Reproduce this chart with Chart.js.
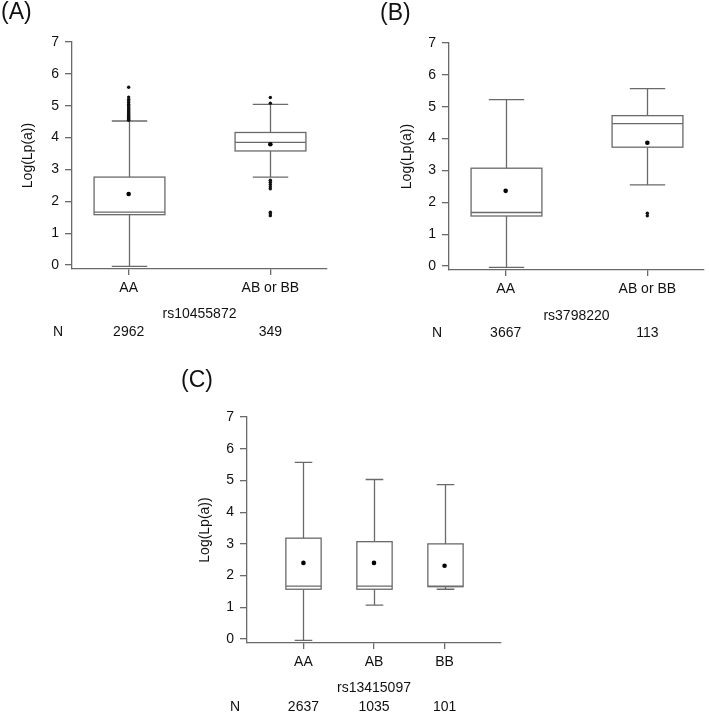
<!DOCTYPE html>
<html>
<head>
<meta charset="utf-8">
<script src="https://cdn.jsdelivr.net/npm/chart.js@4/dist/chart.umd.min.js"></script>
<style>
  html, body { margin: 0; padding: 0; background: #fff; }
  #wrap { position: relative; width: 709px; height: 715px; overflow: hidden; }
  canvas { position: absolute; }
</style>
</head>
<body>
<div id="wrap">
  <canvas id="chartA" style="left:0px;top:0px"></canvas>
  <canvas id="chartB" style="left:355px;top:0px"></canvas>
  <canvas id="chartC" style="left:180px;top:360px"></canvas>
</div>
<script>
// ---- data ----

// (A) rs10455872
var groupsA = ['AA', 'AB or BB'];
var countsA = [2962, 349];
var lowA = [-0.04, 2.76];
var q1A = [1.58, 3.58];
var medA = [1.66, 3.85];
var q3A = [2.76, 4.16];
var highA = [4.52, 5.04];
var meanA = [2.23, 3.79];
var outliersA_AA = [4.54, 4.57, 4.6, 4.63, 4.66, 4.69, 4.72, 4.75, 4.78, 4.81, 4.84, 4.87, 4.9, 4.93, 4.96, 5.0, 5.05, 5.1, 5.15, 5.2, 5.27, 5.58];
var outliersA_AB = [5.08, 5.26, 2.66, 2.6, 2.53, 2.46, 2.39, 1.66, 1.6, 1.55];

// (B) rs3798220
var groupsB = ['AA', 'AB or BB'];
var countsB = [3667, 113];
var lowB = [-0.04, 2.55];
var q1B = [1.57, 3.73];
var medB = [1.68, 4.47];
var q3B = [3.07, 4.72];
var highB = [5.22, 5.57];
var meanB = [2.36, 3.87];
var outliersB_AA = [];
var outliersB_AB = [1.66, 1.58];

// (C) rs13415097
var groupsC = ['AA', 'AB', 'BB'];
var countsC = [2637, 1035, 101];
var lowC = [-0.04, 1.07, 1.57];
var q1C = [1.57, 1.57, 1.65];
var medC = [1.67, 1.67, 1.67];
var q3C = [3.18, 3.07, 3.0];
var highC = [5.57, 5.03, 4.87];
var meanC = [2.4, 2.4, 2.31];

var yTicks = [0, 1, 2, 3, 4, 5, 6, 7];

var FONT = "'Liberation Sans', Arial, sans-serif";
var LINE = '#6a6a6a';
var TEXT = '#111';

// boxes + whiskers drawn through the chart scales, plus the extra labels
function boxPlugin(p) {
  return {
    id: 'boxes',
    beforeDatasetsDraw: function(chart) {
      var ctx = chart.ctx, x = chart.scales.x, y = chart.scales.y;
      ctx.save();
      ctx.strokeStyle = LINE;
      ctx.lineWidth = 1.3;
      for (var i = 0; i < p.q1.length; i++) {
        var cx = Math.round(x.getPixelForValue(i + 1)) + 0.5;
        var hw = x.getPixelForValue(i + 1 + p.boxWidth / 2) - x.getPixelForValue(i + 1);
        var yl = y.getPixelForValue(p.low[i]);
        var y1 = y.getPixelForValue(p.q1[i]);
        var ym = y.getPixelForValue(p.med[i]);
        var y3 = y.getPixelForValue(p.q3[i]);
        var yh = y.getPixelForValue(p.high[i]);
        ctx.beginPath();
        ctx.moveTo(cx, yl); ctx.lineTo(cx, y1);
        ctx.moveTo(cx, y3); ctx.lineTo(cx, yh);
        ctx.moveTo(cx - hw / 2, yl); ctx.lineTo(cx + hw / 2, yl);
        ctx.moveTo(cx - hw / 2, yh); ctx.lineTo(cx + hw / 2, yh);
        ctx.moveTo(cx - hw, ym); ctx.lineTo(cx + hw, ym);
        ctx.stroke();
        ctx.strokeRect(cx - hw, y3, hw * 2, y1 - y3);
      }
      ctx.restore();
    },
    afterDraw: function(chart) {
      var ctx = chart.ctx, x = chart.scales.x, area = chart.chartArea;
      ctx.save();
      ctx.fillStyle = TEXT;
      ctx.textBaseline = 'middle';
      // panel letter
      ctx.font = '23px ' + FONT;
      ctx.textAlign = 'left';
      ctx.fillText(p.letter, p.letterX, p.letterY);
      ctx.font = '14px ' + FONT;
      ctx.textAlign = 'center';
      // x title
      ctx.fillText(p.xTitle, (area.left + area.right) / 2, p.xTitleY);
      // N row
      ctx.fillText('N', p.nX, p.nY);
      for (var i = 0; i < p.counts.length; i++) {
        ctx.fillText(String(p.counts[i]), x.getPixelForValue(i + 1), p.nY);
      }
      // y title
      ctx.translate(p.yTitleX, (area.top + area.bottom) / 2);
      ctx.rotate(-Math.PI / 2);
      ctx.fillText('Log(Lp(a))', 0, 0);
      ctx.restore();
    }
  };
}

function makePanel(id, w, h, pad, xmin, xmax, groups, counts, low, q1, med, q3, high, mean, outliers, labels) {
  var canvas = document.getElementById(id);
  canvas.width = w; canvas.height = h;
  canvas.style.width = w + 'px'; canvas.style.height = h + 'px';

  var meanPts = mean.map(function(v, i) { return { x: i + 1, y: v }; });
  var outPts = [];
  outliers.forEach(function(list, i) {
    list.forEach(function(v) { outPts.push({ x: i + 1, y: v }); });
  });

  var panel = Object.assign({
    boxWidth: 0.5, counts: counts, low: low, q1: q1, med: med, q3: q3, high: high
  }, labels);

  var config = {
    type: 'scatter',
    data: {
      datasets: [
        { data: meanPts, pointRadius: 2.3, pointBackgroundColor: '#000', pointBorderWidth: 0 },
        { data: outPts, pointRadius: 1.7, pointBackgroundColor: '#111', pointBorderWidth: 0 }
      ]
    },
    options: {
      responsive: false,
      animation: false,
      devicePixelRatio: 1,
      layout: { padding: pad },
      plugins: { legend: { display: false }, tooltip: { enabled: false } },
      scales: {
        x: {
          type: 'linear', min: xmin, max: xmax,
          afterBuildTicks: function(s) { s.ticks = groups.map(function(g, i) { return { value: i + 1 }; }); },
          afterFit: function(s) { s.height = 40; },
          ticks: {
            padding: 5, color: TEXT, font: { family: FONT, size: 14 },
            maxRotation: 0, autoSkip: false,
            callback: function(v) { return groups[v - 1]; }
          },
          grid: { drawOnChartArea: false, drawTicks: true, tickLength: 6, color: LINE, lineWidth: 1.3 },
          border: { display: true, color: LINE, width: 1.3 }
        },
        y: {
          type: 'linear', min: -0.125, max: 7,
          afterBuildTicks: function(s) { s.ticks = yTicks.map(function(v) { return { value: v }; }); },
          afterFit: function(s) { s.width = 40; },
          ticks: { padding: 6, color: TEXT, font: { family: FONT, size: 14 } },
          grid: { drawOnChartArea: false, drawTicks: true, tickLength: 7, color: LINE, lineWidth: 1.3 },
          border: { display: true, color: LINE, width: 1.3 }
        }
      }
    },
    plugins: [boxPlugin(panel)]
  };
  return new Chart(canvas, config);
}

makePanel('chartA', 340, 345, { left: 32, top: 42, right: 13, bottom: 36 }, 0.6, 2.4,
  groupsA, countsA, lowA, q1A, medA, q3A, highA, meanA, [outliersA_AA, outliersA_AB],
  { letter: '(A)', letterX: 1, letterY: 13, xTitle: 'rs10455872', xTitleY: 314, nX: 58, nY: 332, yTitleX: 28 });

makePanel('chartB', 354, 345, { left: 54, top: 43, right: 5, bottom: 35 }, 0.6, 2.4,
  groupsB, countsB, lowB, q1B, medB, q3B, highB, meanB, [outliersB_AA, outliersB_AB],
  { letter: '(B)', letterX: 25, letterY: 14, xTitle: 'rs3798220', xTitleY: 316, nX: 82, nY: 333, yTitleX: 52 });

makePanel('chartC', 360, 355, { left: 27, top: 57, right: 39, bottom: 32 }, 0.2, 3.8,
  groupsC, countsC, lowC, q1C, medC, q3C, highC, meanC, [[], [], []],
  { letter: '(C)', letterX: 1, letterY: 21, xTitle: 'rs13415097', xTitleY: 328, nX: 55, nY: 347, yTitleX: 25 });
</script>
</body>
</html>
